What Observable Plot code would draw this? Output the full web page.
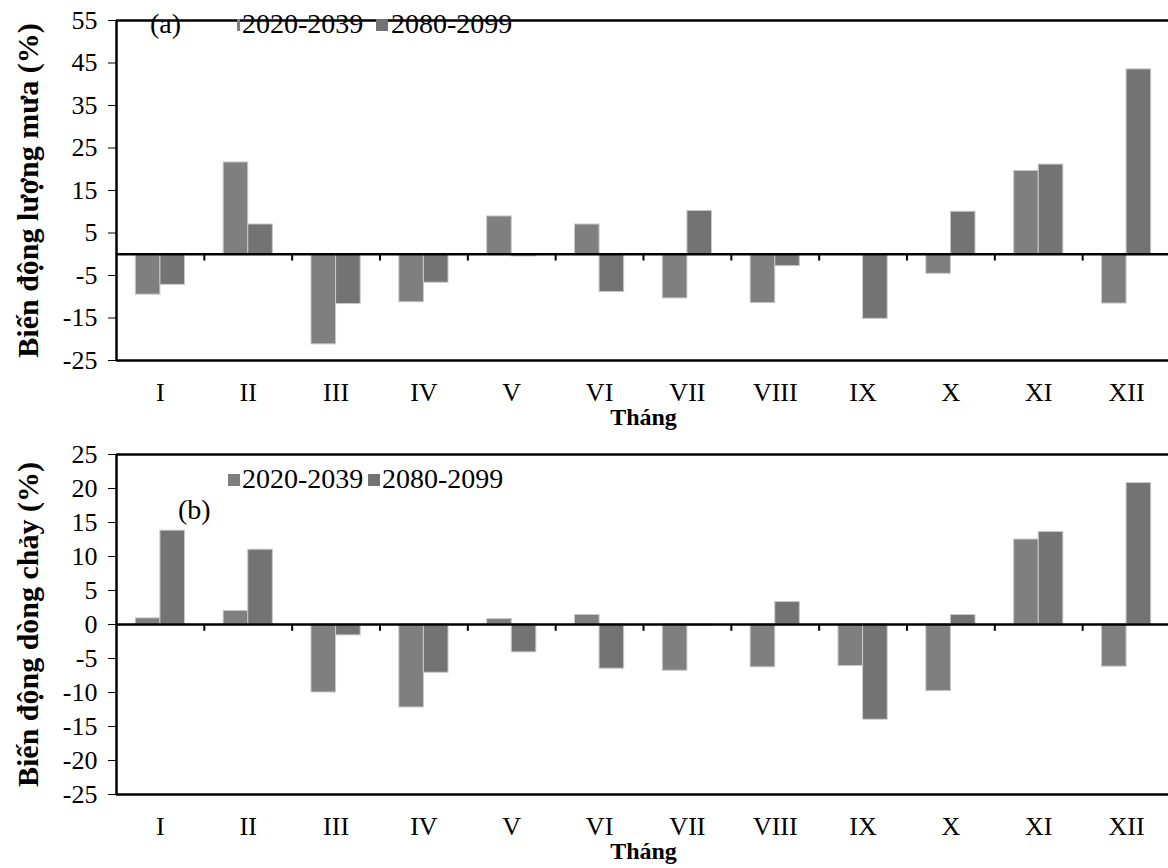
<!DOCTYPE html>
<html>
<head>
<meta charset="utf-8">
<script src="https://cdn.jsdelivr.net/npm/d3@7"></script>
<script src="https://cdn.jsdelivr.net/npm/@observablehq/plot@0.6"></script>
<style>
  html, body { margin: 0; padding: 0; background: #fff; }
  #wrap { position: relative; width: 1168px; height: 868px; overflow: hidden; font-family: "Liberation Serif", "Times New Roman", serif; }
  #wrap svg, #wrap svg text { font-family: "Liberation Serif", "Times New Roman", serif !important; }
  .panel { position: absolute; left: 0; }
  .leg { position: absolute; font-size: 28px; line-height: 28px; color: #000; white-space: nowrap; }
  .sw { position: absolute; }
</style>
</head>
<body>
<div id="wrap">
  <div id="pa" class="panel" style="top:0"></div>
  <div id="pb" class="panel" style="top:434px"></div>
  <div class="leg" style="left:150px; top:10px">(a)</div>
  <div class="sw" style="left:237px; top:19px; width:3px; height:12px; background:#7f7f7f"></div>
  <div class="leg" style="left:242px; top:10px">2020-2039</div>
  <div class="sw" style="left:376px; top:19px; width:12px; height:12px; background:#737373"></div>
  <div class="leg" style="left:391px; top:10px">2080-2099</div>
  <div class="sw" style="left:228px; top:474px; width:12px; height:12px; background:#7f7f7f"></div>
  <div class="leg" style="left:242px; top:465px">2020-2039</div>
  <div class="sw" style="left:368px; top:474px; width:12px; height:12px; background:#737373"></div>
  <div class="leg" style="left:382px; top:465px">2080-2099</div>
  <div class="leg" style="left:178px; top:496px">(b)</div>
</div>
<script>
const months = ["I","II","III","IV","V","VI","VII","VIII","IX","X","XI","XII"];
const series = ["2020-2039", "2080-2099"];
const colors = ["#7f7f7f", "#737373"];
// (a) Biến động lượng mưa (%)
const rain2020 = [-9.5, 21.6, -21.2, -11.3, 8.9, 7.0, -10.4, -11.5, 0, -4.6, 19.6, -11.6];
const rain2080 = [-7.2, 7.0, -11.7, -6.7, -0.5, -8.9, 10.2, -2.8, -15.2, 10.0, 21.1, 43.5];
// (b) Biến động dòng chảy (%)
const flow2020 = [0.9, 2.0, -10.0, -12.2, 0.8, 1.4, -6.8, -6.3, -6.1, -9.8, 12.5, -6.2];
const flow2080 = [13.8, 11.0, -1.6, -7.1, -4.1, -6.5, -0.2, 3.3, -14.0, 1.4, 13.6, 20.8];
const ticksA = [-25, -15, -5, 5, 15, 25, 35, 45, 55];
const ticksB = [-25, -20, -15, -10, -5, 0, 5, 10, 15, 20, 25];

const barW = 0.28;
const serif = "'Liberation Serif', 'Times New Roman', serif";

function panel(v2020, v2080, yDomain, yTicks, yTitle, tickLen) {
  const rows = [];
  months.forEach((m, i) => {
    rows.push({i: i + 1, s: 0, v: v2020[i]});
    rows.push({i: i + 1, s: 1, v: v2080[i]});
  });
  const bounds = d3.range(1.5, 12, 1);
  return Plot.plot({
    width: 1168,
    height: 434,
    marginTop: 20,
    marginBottom: 74,
    marginLeft: 116,
    marginRight: -2,
    style: {fontFamily: serif, fontSize: "26px", color: "#000", background: "#fff"},
    x: {domain: [0.5, 12.5], ticks: d3.range(1, 13), tickFormat: d => months[d - 1], tickSize: 0, tickPadding: 22, label: null},
    y: {domain: yDomain, ticks: yTicks, tickFormat: d => String(d), tickSize: 8, tickPadding: 11, label: null},
    marks: [
      Plot.rectY(rows.filter(d => d.v !== 0), {
        x1: d => d.s === 0 ? d.i - barW : d.i,
        x2: d => d.s === 0 ? d.i : d.i + barW,
        y1: 0, y2: "v",
        fill: d => colors[d.s],
        stroke: "#c9c9c9", strokeWidth: 1
      }),
      Plot.ruleY([0], {stroke: "#000", strokeWidth: 2.5}),
      Plot.ruleY([yDomain[0], yDomain[1]], {stroke: "#000", strokeWidth: 2.5}),
      Plot.ruleX([0.5], {y1: yDomain[0], y2: yDomain[1], stroke: "#000", strokeWidth: 2.5}),
      Plot.ruleX(bounds, {y1: 0, y2: -tickLen, stroke: "#000", strokeWidth: 2}),
      Plot.text([yTitle], {frameAnchor: "left", textAnchor: "middle", rotate: -90, dx: -88, fontWeight: "bold", fontSize: 30, fontFamily: serif}),
      Plot.text(["Tháng"], {frameAnchor: "bottom", textAnchor: "middle", dy: 64, fontWeight: "bold", fontSize: 24, fontFamily: serif})
    ]
  });
}

document.getElementById("pa").appendChild(panel(rain2020, rain2080, [-25, 55], ticksA, "Biến động lượng mưa (%)", 1.6));
document.getElementById("pb").appendChild(panel(flow2020, flow2080, [-25, 25], ticksB, "Biến động dòng chảy (%)", 1.0));
</script>
</body>
</html>
